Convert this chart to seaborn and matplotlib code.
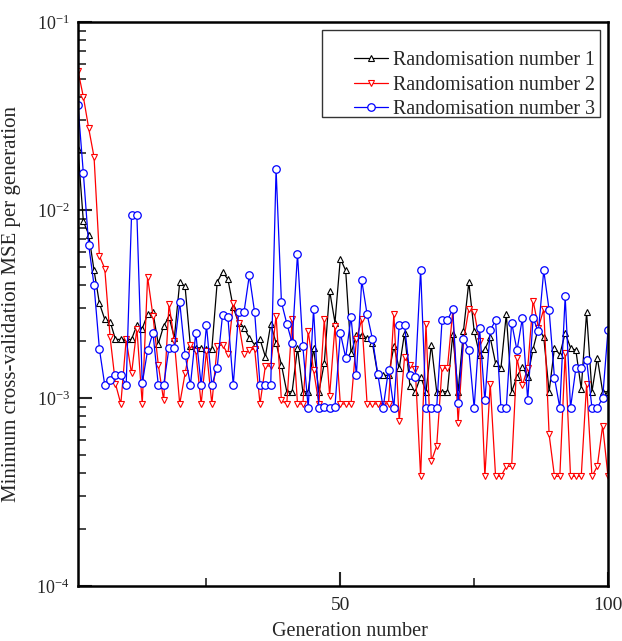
import numpy as np
import pandas as pd
import matplotlib
matplotlib.use("Agg")
import matplotlib.pyplot as plt
import seaborn as sns
from matplotlib.patches import Rectangle
from matplotlib.ticker import FixedLocator, LogLocator, FuncFormatter, NullFormatter

generation = list(range(1, 101))

rand1 = [0.021, 8.7e-3, 7.4e-3, 4.77e-3, 3.19e-3, 2.62e-3, 2.55e-3, 2.05e-3, 2.05e-3, 2.05e-3,
         2.05e-3, 2.44e-3, 2.34e-3, 2.79e-3, 2.85e-3, 1.94e-3, 2.42e-3, 2.70e-3, 2.09e-3, 4.13e-3,
         3.92e-3, 1.88e-3, 1.85e-3, 1.85e-3, 1.82e-3, 1.82e-3, 4.13e-3, 4.68e-3, 4.28e-3, 3.03e-3,
         2.51e-3, 2.37e-3, 2.09e-3, 1.92e-3, 2.05e-3, 1.66e-3, 2.47e-3, 1.96e-3, 1.50e-3, 1.08e-3,
         1.08e-3, 1.85e-3, 1.08e-3, 1.08e-3, 1.85e-3, 1.08e-3, 1.53e-3, 3.72e-3, 2.52e-3, 5.52e-3,
         4.77e-3, 1.73e-3, 2.16e-3, 2.16e-3, 2.08e-3, 1.96e-3, 1.32e-3, 1.32e-3, 1.32e-3, 1.88e-3,
         1.44e-3, 2.22e-3, 1.16e-3, 1.08e-3, 1.30e-3, 1.08e-3, 1.92e-3, 1.08e-3, 1.08e-3, 1.08e-3,
         2.18e-3, 1.08e-3, 2.27e-3, 4.13e-3, 2.27e-3, 1.70e-3, 1.82e-3, 2.10e-3, 1.53e-3, 1.44e-3,
         2.79e-3, 1.08e-3, 1.30e-3, 1.47e-3, 1.30e-3, 1.82e-3, 2.37e-3, 2.10e-3, 1.08e-3, 1.85e-3,
         1.70e-3, 2.22e-3, 1.85e-3, 1.79e-3, 1.12e-3, 2.85e-3, 1.08e-3, 1.64e-3, 1.08e-3, 1.08e-3]

rand2 = [0.055, 0.040, 0.0272, 0.0191, 5.7e-3, 4.88e-3, 2.1e-3, 1.19e-3, 9.3e-4, 2.05e-3,
         1.35e-3, 2.34e-3, 9.3e-4, 4.4e-3, 2.74e-3, 1.50e-3, 9.7e-4, 3.16e-3, 2.0e-3, 9.3e-4,
         1.35e-3, 1.92e-3, 1.78e-3, 9.3e-4, 1.78e-3, 9.3e-4, 1.88e-3, 1.92e-3, 1.71e-3, 3.19e-3,
         2.5e-3, 1.71e-3, 1.80e-3, 1.82e-3, 9.3e-4, 1.48e-3, 1.48e-3, 2.74e-3, 9.7e-4, 9.3e-4,
         2.62e-3, 9.3e-4, 9.3e-4, 2.27e-3, 1.41e-3, 9.3e-4, 2.62e-3, 1.03e-3, 2.41e-3, 9.3e-4,
         9.3e-4, 9.3e-4, 2.05e-3, 2.62e-3, 9.3e-4, 9.3e-4, 9.3e-4, 9.3e-4, 9.3e-4, 2.79e-3,
         7.5e-4, 1.66e-3, 1.50e-3, 1.43e-3, 3.83e-4, 2.49e-3, 4.61e-4, 5.56e-4, 1.44e-3, 1.44e-3,
         2.9e-3, 7.4e-4, 2.0e-3, 2.97e-3, 2.88e-3, 2.0e-3, 3.83e-4, 1.19e-3, 3.83e-4, 3.83e-4,
         4.33e-4, 4.33e-4, 1.63e-3, 1.17e-3, 1.44e-3, 3.3e-3, 2.37e-3, 2.97e-3, 6.4e-4, 3.83e-4,
         3.83e-4, 1.73e-3, 3.83e-4, 3.83e-4, 3.83e-4, 1.19e-3, 3.83e-4, 4.33e-4, 7.13e-4, 3.83e-4]

rand3 = [0.036, 0.0157, 6.5e-3, 3.97e-3, 1.82e-3, 1.17e-3, 1.24e-3, 1.32e-3, 1.32e-3, 1.17e-3,
         9.38e-3, 9.38e-3, 1.20e-3, 1.79e-3, 2.22e-3, 1.17e-3, 1.17e-3, 1.85e-3, 1.85e-3, 3.23e-3,
         1.70e-3, 1.17e-3, 2.22e-3, 1.17e-3, 2.44e-3, 1.17e-3, 1.45e-3, 2.77e-3, 2.69e-3, 1.17e-3,
         2.85e-3, 2.85e-3, 4.49e-3, 2.85e-3, 1.17e-3, 1.17e-3, 1.17e-3, 0.0165, 3.23e-3, 2.49e-3,
         1.96e-3, 5.83e-3, 1.88e-3, 8.87e-4, 2.97e-3, 8.87e-4, 8.97e-4, 8.87e-4, 9.0e-4, 2.22e-3,
         1.64e-3, 2.70e-3, 1.32e-3, 4.22e-3, 2.79e-3, 2.06e-3, 1.34e-3, 8.87e-4, 1.41e-3, 8.87e-4,
         2.44e-3, 2.44e-3, 1.32e-3, 1.30e-3, 4.82e-3, 8.87e-4, 8.87e-4, 8.87e-4, 2.59e-3, 2.59e-3,
         2.97e-3, 9.4e-4, 2.06e-3, 1.81e-3, 8.87e-4, 2.37e-3, 9.7e-4, 2.29e-3, 2.59e-3, 8.87e-4,
         8.87e-4, 2.52e-3, 1.79e-3, 2.65e-3, 9.7e-4, 2.65e-3, 2.27e-3, 4.77e-3, 2.93e-3, 1.28e-3,
         8.87e-4, 3.47e-3, 8.87e-4, 1.44e-3, 1.44e-3, 1.60e-3, 8.87e-4, 8.87e-4, 1.0e-3, 2.3e-3]

series_labels = ["Randomisation number 1", "Randomisation number 2", "Randomisation number 3"]
xlabel = "Generation number"
ylabel = "Minimum cross-validation MSE per generation"

sns.set_style("ticks")
plt.rcParams["font.family"] = ["Liberation Serif", "DejaVu Serif"]
plt.rcParams["mathtext.fontset"] = "custom"
plt.rcParams["mathtext.rm"] = "Liberation Serif"

fig = plt.figure(figsize=(6.22, 6.41), dpi=100)
ax = fig.add_axes([0.1254, 0.0858, 0.8521, 0.8799])

styles = [
    dict(color="black", marker="^", ms=4.2, mew=0.8),
    dict(color="red", marker="v", ms=4.2, mew=0.8),
    dict(color="blue", marker="o", ms=5.4, mew=0.9),
]
for vals, lab, st in zip([rand1, rand2, rand3], series_labels, styles):
    df = pd.DataFrame({"gen": generation, "mse": vals})
    sns.lineplot(data=df, x="gen", y="mse", ax=ax, color=st["color"], marker=st["marker"],
                 markersize=st["ms"], markerfacecolor="white", markeredgecolor=st["color"],
                 markeredgewidth=st["mew"], linewidth=0.9, label=lab)

ax.set_yscale("log")
ax.set_ylim(1e-4, 1e-1)
ax.set_xlim(1, 100)

ax.xaxis.set_major_locator(FixedLocator([50, 100]))
ax.xaxis.set_minor_locator(FixedLocator([25, 75]))
ax.yaxis.set_major_locator(LogLocator(base=10, numticks=10))
ax.yaxis.set_minor_locator(LogLocator(base=10, subs=np.arange(2, 10), numticks=20))
ax.yaxis.set_minor_formatter(NullFormatter())
ax.yaxis.set_major_formatter(FuncFormatter(lambda v, p: r"$\mathregular{10^{%d}}$" % round(np.log10(v))))

ax.tick_params(axis="both", which="major", direction="in", length=10, width=1.5)
ax.tick_params(axis="x", which="major", pad=8, labelsize=14)
ax.tick_params(axis="y", which="major", pad=6, labelsize=13)
ax.tick_params(axis="both", which="minor", direction="in", length=6, width=1.2)
for sp in ax.spines.values():
    sp.set_linewidth(1.8)
    sp.set_color("black")

ax.set_xlabel(xlabel, fontsize=14.5)
ax.xaxis.set_label_coords(0.513, -0.064)
ax.set_ylabel(ylabel, fontsize=15)
ax.yaxis.set_label_coords(-0.107, 0.5)

# legend frame as drawn in the reference (large top/left padding)
ax.add_patch(Rectangle((0.4604, 0.8316), 0.5245, 0.1542, transform=ax.transAxes,
                       facecolor="white", edgecolor="#333333", linewidth=1.0, zorder=4))
leg = ax.legend(loc="upper left", bbox_to_anchor=(0.5208, 0.9486), fontsize=14.4, frameon=False,
                handlelength=1.7, handletextpad=0.25, borderpad=0.0,
                labelspacing=0.28, borderaxespad=0.0)
leg.set_zorder(5)

fig.savefig("out.png", dpi=100)
